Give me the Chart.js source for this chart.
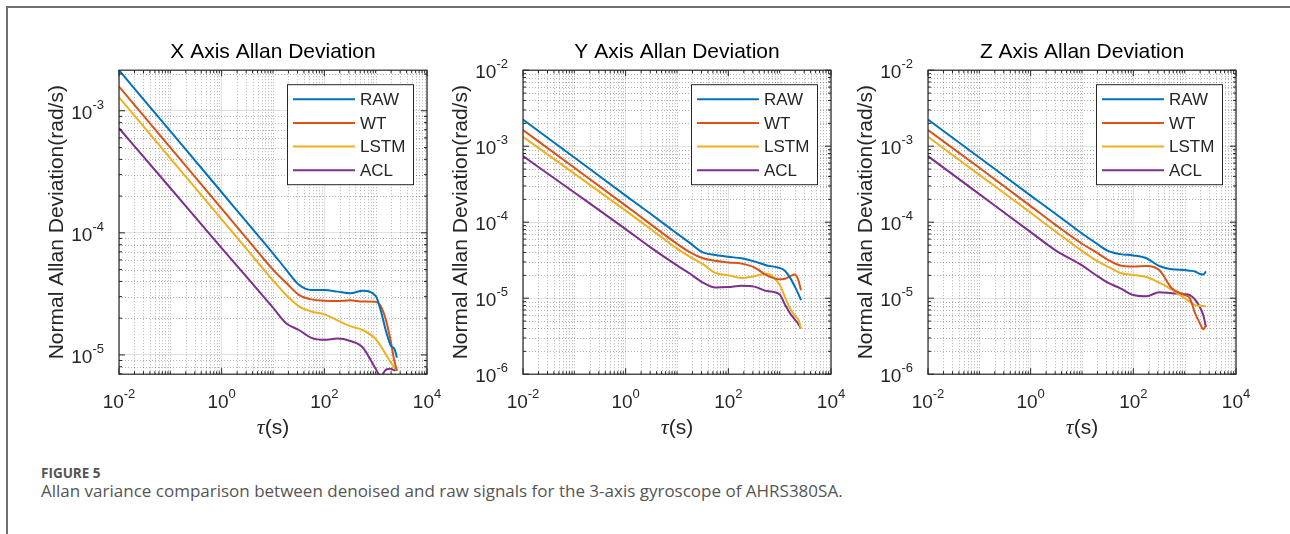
<!DOCTYPE html>
<html>
<head>
<meta charset="utf-8">
<script src="https://cdn.jsdelivr.net/npm/chart.js@4.4.0/dist/chart.umd.min.js"></script>
<style>
  html, body { margin: 0; padding: 0; background: #fff; }
  body { width: 1290px; height: 534px; position: relative; overflow: hidden; }
  .frame { position: absolute; left: 6px; top: 6px; right: 0; bottom: 0;
           border-top: 2px solid #707070; border-left: 2px solid #707070; }
  canvas { position: absolute; top: 30px; }
  #cx { left: 45px; }
  #cy { left: 449px; }
  #cz { left: 854px; }
  .fig { position: absolute; left: 41px; top: 464px; font: bold 13.5px "Open Sans", sans-serif; color: #555; }
  .cap { position: absolute; left: 41px; top: 479px; font: 17px "Open Sans", sans-serif; color: #555; }
</style>
</head>
<body>
<div class="frame"></div>
<canvas id="cx" width="406" height="411"></canvas>
<canvas id="cy" width="406" height="411"></canvas>
<canvas id="cz" width="406" height="411"></canvas>
<div class="fig">FIGURE 5</div>
<div class="cap">Allan variance comparison between denoised and raw signals for the 3-axis gyroscope of AHRS380SA.</div>
<script>
const FONT = '"Liberation Sans", Arial, sans-serif';

// cluster time tau (s), shared by all three panels
const tau = [0.01, 0.1, 1, 3, 10, 18, 32, 56, 100, 180, 320, 560, 1000, 1260, 1600, 2000, 2300, 2600];
const seriesNames = ['RAW', 'WT', 'LSTM', 'ACL'];
const seriesColors = ['#0072BD', '#D95319', '#EDB120', '#7E2F8E'];
const xTicks = [1e-2, 1e0, 1e2, 1e4];
const yTicksX = [1e-5, 1e-4, 1e-3];
const yTicksYZ = [1e-6, 1e-5, 1e-4, 1e-3, 1e-2];

// X axis
const rawX  = [2.15e-3, 6.8e-4, 2.15e-4, 1.24e-4, 6.8e-5, 5.0e-5, 3.75e-5, 3.4e-5, 3.4e-5, 3.3e-5, 3.2e-5, 3.35e-5, 3.05e-5, 2.3e-5, 1.55e-5, 1.18e-5, 1.13e-5, 9.5e-6];
const wtX   = [1.58e-3, 5.0e-4, 1.58e-4, 9.1e-5, 5.0e-5, 3.9e-5, 3.1e-5, 2.85e-5, 2.78e-5, 2.76e-5, 2.8e-5, 2.74e-5, 2.72e-5, 2.5e-5, 1.9e-5, 1.25e-5, 9.0e-6, 7.4e-6];
const lstmX = [1.29e-3, 4.08e-4, 1.29e-4, 7.45e-5, 4.08e-5, 3.1e-5, 2.5e-5, 2.27e-5, 2.15e-5, 1.92e-5, 1.72e-5, 1.6e-5, 1.35e-5, 1.18e-5, 1.0e-5, 8.6e-6, 7.9e-6, 7.5e-6];
const aclX  = [7.2e-4, 2.33e-4, 7.5e-5, 4.4e-5, 2.44e-5, 1.82e-5, 1.6e-5, 1.38e-5, 1.33e-5, 1.36e-5, 1.3e-5, 1.15e-5, 7.7e-6, 6.7e-6, 7.6e-6, 7.7e-6, 7.5e-6, 7.7e-6];

// Y axis
const rawY  = [2.24e-3, 7.1e-4, 2.24e-4, 1.3e-4, 7.1e-5, 5.3e-5, 4.0e-5, 3.7e-5, 3.5e-5, 3.35e-5, 3.05e-5, 2.7e-5, 2.5e-5, 2.3e-5, 1.85e-5, 1.4e-5, 1.15e-5, 9.4e-6];
const wtY   = [1.63e-3, 5.2e-4, 1.65e-4, 9.5e-5, 5.2e-5, 4.0e-5, 3.35e-5, 3.1e-5, 2.95e-5, 2.85e-5, 2.55e-5, 2.0e-5, 1.77e-5, 1.8e-5, 1.95e-5, 2.05e-5, 1.75e-5, 1.27e-5];
const lstmY = [1.33e-3, 4.35e-4, 1.42e-4, 8.2e-5, 4.5e-5, 3.5e-5, 2.8e-5, 2.15e-5, 2.0e-5, 1.85e-5, 1.95e-5, 2.1e-5, 1.5e-5, 1.05e-5, 7.3e-6, 5.8e-6, 5.3e-6, 4.0e-6];
const aclY  = [7.4e-4, 2.46e-4, 8.1e-5, 4.7e-5, 2.7e-5, 2.1e-5, 1.6e-5, 1.38e-5, 1.4e-5, 1.46e-5, 1.42e-5, 1.24e-5, 1.12e-5, 8.3e-6, 6.3e-6, 5.2e-6, 4.6e-6, 4.0e-6];

// Z axis
const rawZ  = [2.24e-3, 7.1e-4, 2.24e-4, 1.3e-4, 7.1e-5, 5.4e-5, 4.2e-5, 3.8e-5, 3.65e-5, 3.35e-5, 2.65e-5, 2.4e-5, 2.35e-5, 2.3e-5, 2.25e-5, 2.08e-5, 2.05e-5, 2.25e-5];
const wtZ   = [1.63e-3, 5.2e-4, 1.63e-4, 9.3e-5, 5.2e-5, 4.1e-5, 3.2e-5, 2.7e-5, 2.62e-5, 2.66e-5, 2.35e-5, 1.35e-5, 1.1e-5, 1.0e-5, 6.3e-6, 4.6e-6, 3.9e-6, 4.4e-6];
const lstmZ = [1.33e-3, 4.2e-4, 1.33e-4, 7.6e-5, 4.2e-5, 3.2e-5, 2.6e-5, 2.15e-5, 2.02e-5, 1.9e-5, 1.6e-5, 1.3e-5, 1.0e-5, 9.0e-6, 8.1e-6, 7.9e-6, 7.9e-6, 7.8e-6];
const aclZ  = [7.4e-4, 2.34e-4, 7.4e-5, 4.3e-5, 2.7e-5, 2.05e-5, 1.6e-5, 1.35e-5, 1.1e-5, 1.06e-5, 1.2e-5, 1.16e-5, 1.13e-5, 1.1e-5, 9.6e-6, 7.5e-6, 6.0e-6, 4.2e-6];

const INK = '#262626';

function isMajor(scale, v) {
    return scale.ticks.some(t => Math.abs(Math.log10(t.value) - Math.log10(v)) < 1e-6);
}

// 1..9 x 10^k positions that are not labelled ticks
function minorValues(scale) {
    const out = [];
    const lo = Math.floor(Math.log10(scale.min)), hi = Math.ceil(Math.log10(scale.max));
    for (let k = lo; k <= hi; k++) {
        for (let m = 1; m <= 9; m++) {
            const v = m * Math.pow(10, k);
            if (v > scale.min * 1.0001 && v < scale.max * 0.9999 && !isMajor(scale, v)) out.push(v);
        }
    }
    return out;
}

function powLabel(ctx, e, x, y, align) {
    ctx.font = '19px ' + FONT;
    const bw = ctx.measureText('10').width;
    ctx.font = '13px ' + FONT;
    const ew = ctx.measureText(String(e)).width;
    const x0 = align === 'right' ? x - bw - ew : x - (bw + ew) / 2;
    ctx.textAlign = 'left';
    ctx.textBaseline = 'alphabetic';
    ctx.font = '19px ' + FONT;
    ctx.fillText('10', x0, y + 7);
    ctx.font = '13px ' + FONT;
    ctx.fillText(String(e), x0 + bw, y - 3);
}

const decor = {
    id: 'decor',
    beforeDatasetsDraw(chart) {
        const {ctx, chartArea: a, scales: {x, y}} = chart;
        ctx.save();
        ctx.strokeStyle = 'rgba(38,38,38,0.35)';
        ctx.lineWidth = 1;
        ctx.setLineDash([1, 2]);
        ctx.beginPath();
        minorValues(x).forEach(v => {
            const p = Math.round(x.getPixelForValue(v)) + 0.5;
            ctx.moveTo(p, a.top); ctx.lineTo(p, a.bottom);
        });
        minorValues(y).forEach(v => {
            const p = Math.round(y.getPixelForValue(v)) + 0.5;
            ctx.moveTo(a.left, p); ctx.lineTo(a.right, p);
        });
        ctx.stroke();
        ctx.restore();
    },
    afterDraw(chart) {
        const {ctx, chartArea: a, scales: {x, y}} = chart;
        ctx.save();
        // box and inward ticks
        ctx.strokeStyle = INK;
        ctx.lineWidth = 1.2;
        ctx.strokeRect(a.left, a.top, a.right - a.left, a.bottom - a.top);
        ctx.lineWidth = 1;
        ctx.beginPath();
        x.ticks.forEach(t => {
            const p = x.getPixelForValue(t.value);
            ctx.moveTo(p, a.bottom); ctx.lineTo(p, a.bottom - 6);
            ctx.moveTo(p, a.top); ctx.lineTo(p, a.top + 6);
        });
        minorValues(x).forEach(v => {
            const p = x.getPixelForValue(v);
            ctx.moveTo(p, a.bottom); ctx.lineTo(p, a.bottom - 3);
            ctx.moveTo(p, a.top); ctx.lineTo(p, a.top + 3);
        });
        y.ticks.forEach(t => {
            const p = y.getPixelForValue(t.value);
            ctx.moveTo(a.left, p); ctx.lineTo(a.left + 6, p);
            ctx.moveTo(a.right, p); ctx.lineTo(a.right - 6, p);
        });
        minorValues(y).forEach(v => {
            const p = y.getPixelForValue(v);
            ctx.moveTo(a.left, p); ctx.lineTo(a.left + 3, p);
            ctx.moveTo(a.right, p); ctx.lineTo(a.right - 3, p);
        });
        ctx.stroke();

        // tick labels
        ctx.fillStyle = INK;
        x.ticks.forEach(t => powLabel(ctx, Math.round(Math.log10(t.value)), x.getPixelForValue(t.value), a.bottom + 27, 'center'));
        y.ticks.forEach(t => powLabel(ctx, Math.round(Math.log10(t.value)), a.left - 15, y.getPixelForValue(t.value) + 1, 'right'));

        // x axis title: italic tau + (s)
        ctx.textBaseline = 'middle';
        ctx.textAlign = 'left';
        ctx.font = 'italic 22px "Liberation Serif", "DejaVu Serif", serif';
        const tw = ctx.measureText('\u03C4').width;
        ctx.font = '21px ' + FONT;
        const sw = ctx.measureText('(s)').width;
        const cx = (a.left + a.right) / 2 - (tw + sw) / 2;
        ctx.font = 'italic 22px "Liberation Serif", "DejaVu Serif", serif';
        ctx.fillText('\u03C4', cx, a.bottom + 54);
        ctx.font = '21px ' + FONT;
        ctx.fillText('(s)', cx + tw, a.bottom + 54);

        // legend box
        const lw = 126, lh = 100;
        const lx = a.right - 14 - lw, ly = a.top + 14;
        ctx.fillStyle = '#fff';
        ctx.fillRect(lx, ly, lw, lh);
        ctx.strokeStyle = INK;
        ctx.lineWidth = 1;
        ctx.strokeRect(lx + 0.5, ly + 0.5, lw, lh);
        ctx.font = '17px ' + FONT;
        chart.data.datasets.forEach((ds, i) => {
            const ry = ly + 15 + i * 23.7;
            ctx.strokeStyle = ds.borderColor;
            ctx.lineWidth = 2;
            ctx.beginPath();
            ctx.moveTo(lx + 6, ry); ctx.lineTo(lx + 68, ry);
            ctx.stroke();
            ctx.fillStyle = INK;
            ctx.fillText(ds.label, lx + 73, ry + 1);
        });
        ctx.restore();
    }
};

function makeChart(id, title, yMin, yMax, yTicks, series) {
    return new Chart(document.getElementById(id), {
        type: 'line',
        data: {
            datasets: seriesNames.map((name, i) => ({
                label: name,
                data: tau.map((t, j) => ({x: t, y: series[i][j]})),
                borderColor: seriesColors[i],
                borderWidth: 2,
                pointRadius: 0,
                fill: false,
                cubicInterpolationMode: 'monotone'
            }))
        },
        options: {
            responsive: false,
            animation: false,
            events: [],
            layout: {padding: {right: 24}},
            plugins: {
                legend: {display: false},
                tooltip: {enabled: false},
                title: {
                    display: true,
                    text: title,
                    fullSize: false,
                    color: '#000',
                    font: {family: FONT, size: 21, weight: 'normal', lineHeight: 1.2},
                    padding: {top: 10, bottom: 5}
                }
            },
            scales: {
                x: {
                    type: 'logarithmic',
                    min: 1e-2,
                    max: 1e4,
                    afterBuildTicks: s => { s.ticks = xTicks.map(v => ({value: v})); },
                    afterFit: s => { s.height = 66.8; },
                    ticks: {display: false},
                    grid: {color: '#e2e2e2', drawTicks: false},
                    border: {display: false}
                },
                y: {
                    type: 'logarithmic',
                    min: yMin,
                    max: yMax,
                    afterBuildTicks: s => { s.ticks = yTicks.map(v => ({value: v})); },
                    afterFit: s => { s.width = 74; },
                    ticks: {display: false},
                    grid: {color: '#e2e2e2', drawTicks: false},
                    border: {display: false},
                    title: {
                        display: true,
                        text: 'Normal Allan Deviation(rad/s)',
                        color: INK,
                        font: {family: FONT, size: 21, lineHeight: 1.2},
                        padding: 0
                    }
                }
            }
        },
        plugins: [decor]
    });
}

makeChart('cx', 'X Axis Allan Deviation', 6.95e-6, 2.15e-3, yTicksX, [rawX, wtX, lstmX, aclX]);
makeChart('cy', 'Y Axis Allan Deviation', 1e-6, 1e-2, yTicksYZ, [rawY, wtY, lstmY, aclY]);
makeChart('cz', 'Z Axis Allan Deviation', 1e-6, 1e-2, yTicksYZ, [rawZ, wtZ, lstmZ, aclZ]);
</script>
</body>
</html>
